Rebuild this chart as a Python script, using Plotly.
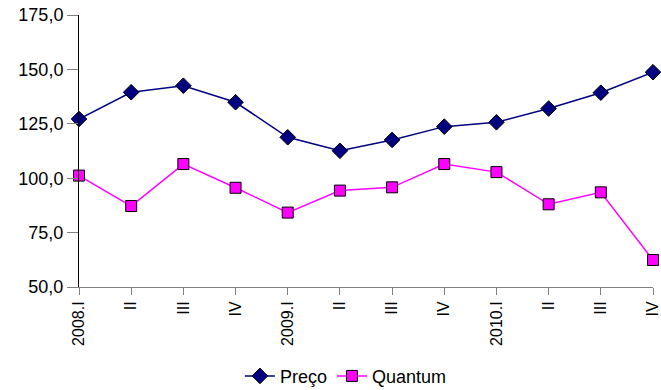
import plotly.graph_objects as go

# Quarterly periods 2008-2010
periods = ["2008.I", "II", "III", "IV",
           "2009.I", "II", "III", "IV",
           "2010.I", "II", "III", "IV"]

# Index values (price and quantum)
preco = [127.2, 139.5, 142.5, 134.9, 118.8, 112.6,
         117.6, 123.7, 125.7, 132.0, 139.3, 148.7]
quantum = [101.2, 87.2, 106.5, 95.6, 84.2, 94.3,
           95.8, 106.5, 102.8, 88.0, 93.5, 62.4]

x = list(range(len(periods)))
FONT = "Liberation Sans, Arial, sans-serif"

fig = go.Figure()
fig.add_trace(go.Scatter(
    x=x, y=preco, name="Preço", mode="lines+markers",
    line=dict(color="#000080", width=1.5),
    marker=dict(symbol="diamond", size=12, color="#000080",
                line=dict(color="#000000", width=1)),
    cliponaxis=False,
))
fig.add_trace(go.Scatter(
    x=x, y=quantum, name="Quantum", mode="lines+markers",
    line=dict(color="#FF00FF", width=1.5),
    marker=dict(symbol="square", size=11, color="#FF00FF",
                line=dict(color="#000000", width=1)),
    cliponaxis=False,
))

fig.update_layout(
    width=661, height=390,
    margin=dict(l=79, r=8, t=15, b=103, autoexpand=False),
    paper_bgcolor="white", plot_bgcolor="white",
    font=dict(family=FONT, size=16, color="#000000"),
    separators=", ",
    showlegend=True,
    legend=dict(orientation="h", x=0.465, xanchor="center",
                y=-0.26, yanchor="top",
                font=dict(family=FONT, size=18),
                itemwidth=30, tracegroupgap=0,
                bgcolor="rgba(0,0,0,0)"),
)

fig.update_xaxes(
    range=[0, 11], automargin=False,
    tickmode="array", tickvals=x, ticktext=periods,
    tickangle=-90, ticklabeloverflow="allow",
    showgrid=False, zeroline=False,
    showline=True, linecolor="#808080", linewidth=1,
    ticks="outside", ticklen=7, tickcolor="#808080", tickwidth=1,
    tickfont=dict(family=FONT, size=16),
)
fig.update_yaxes(
    range=[50, 175], dtick=25, tickformat=".1f", automargin=False,
    showgrid=False, zeroline=False,
    showline=True, linecolor="#000000", linewidth=1,
    ticks="outside", ticklen=11, tickcolor="#808080", tickwidth=1,
    tickfont=dict(family=FONT, size=18),
)

fig.write_html("out.html")
